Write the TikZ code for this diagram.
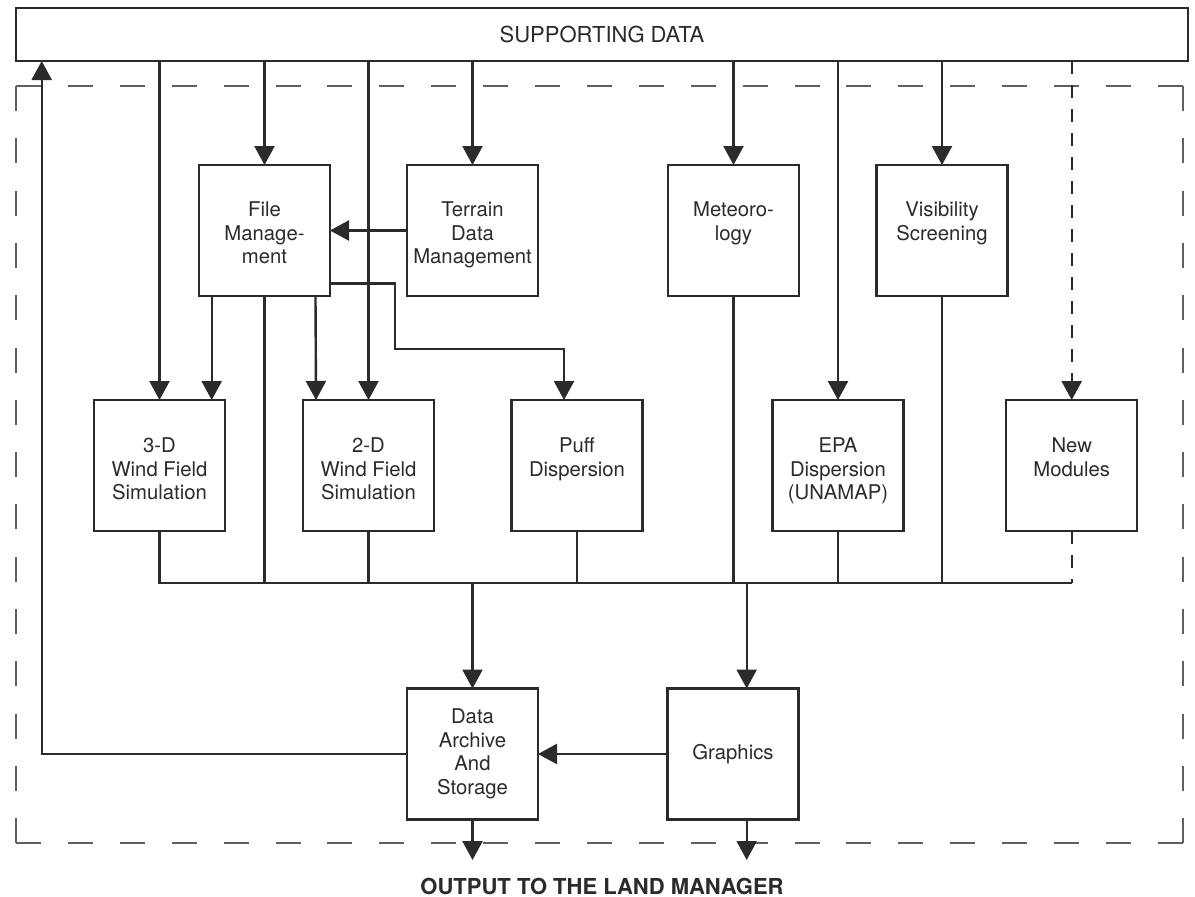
\documentclass[tikz,border=0pt]{standalone}
\usepackage{fontspec}
\setmainfont{TeX Gyre Heros}
\usetikzlibrary{arrows.meta,calc}
\definecolor{ink}{HTML}{2B2B2B}
\newcommand{\toptext}[2]{\parbox[c][131pt][t]{131pt}{\centering\rule{0pt}{#1}#2}}
\begin{document}
\begin{tikzpicture}[x=1pt,y=-1pt,
  line/.style={draw=ink, line width=2.4pt},
  arr/.style={line, -{Triangle[length=19pt,width=20pt]}},
  box/.style={draw=ink, line width=2.3pt, inner sep=0pt, outer sep=0pt,
    minimum width=131pt, minimum height=131pt, align=center, text=ink,
    font=\fontsize{20.3}{23.5}\selectfont},
  border/.style={draw=ink!75, line width=1.4pt},
  newdash/.style={dash pattern=on 13pt off 11pt}]
\useasboundingbox (0,0) rectangle (1195,897);
\fill[white] (0,0) rectangle (1195,897);

% dashed frame
\draw[border, dash pattern=on 25pt off 26.9pt] (16,86) -- (1183,86);
\draw[border, dash pattern=on 25pt off 26.9pt] (16,843) -- (1183,843);
\draw[border, dash pattern=on 25pt off 27.3pt] (16,86) -- (16,843);
\draw[border, dash pattern=on 25pt off 27.3pt] (1183,86) -- (1183,843);

% supporting data
\node[box, minimum width=1172pt, minimum height=53pt,
  font=\fontsize{22}{24}\selectfont] (sd) at (602,34.5) {SUPPORTING DATA};

% upper row
\node[box] (fm)  at (264.5,230.5) {\toptext{51.5pt}{File\\Manage-\\ment}};
\node[box] (td)  at (472.5,230.5) {\toptext{51.5pt}{Terrain\\Data\\Management}};
\node[box] (met) at (733.5,230.5) {\toptext{51.5pt}{Meteoro-\\logy}};
\node[box] (vis) at (942,230.5)   {\toptext{51.5pt}{Visibility\\Screening}};

% middle row
\node[box] (w3)   at (159.5,465.5) {\toptext{52.5pt}{3-D\\Wind Field\\Simulation}};
\node[box] (w2)   at (368.5,465.5) {\toptext{52.5pt}{2-D\\Wind Field\\Simulation}};
\node[box] (puff) at (577,465.5)   {\toptext{52.5pt}{Puff\\Dispersion}};
\node[box] (epa)  at (838,465.5)   {\toptext{52.5pt}{EPA\\Dispersion\\(UNAMAP)}};
\node[box] (nm)   at (1071.7,465.5){\toptext{52.5pt}{New\\Modules}};

% bottom row
\node[box] (da) at (472.5,754) {Data\\Archive\\And\\Storage};
\node[box] (gr) at (733,754)   {Graphics};

\node[text=ink, font=\bfseries\fontsize{22}{24}\selectfont, anchor=base]
  (out) at (602,894) {OUTPUT TO THE LAND MANAGER};

% helper coordinates
\coordinate (bus) at (0,583);
\coordinate (fb) at (41.7,754);
\coordinate (b2) at (395,349);
\coordinate (gin) at ($(gr.north)+(13.7,0)$);
\coordinate (gout) at ($(gr.south)+(13.7,0)$);
\coordinate (o1) at (472.5,860);
\coordinate (o2) at (746.7,860);

% from supporting data
\draw[arr] (sd.south -| w3.north) -- (w3.north);
\draw[arr] (sd.south -| fm.north) -- (fm.north);
\draw[arr] (sd.south -| w2.north) -- (w2.north);
\draw[arr] (sd.south -| td.north) -- (td.north);
\draw[arr] (sd.south -| met.north) -- (met.north);
\draw[arr] (sd.south -| epa.north) -- (epa.north);
\draw[arr] (sd.south -| vis.north) -- (vis.north);
\draw[arr, newdash] (sd.south -| nm.north) -- (nm.north);

% terrain to file management
\draw[arr] (td.west) -- (fm.east);

% file management outputs
\draw[arr] ($(fm.south west)+(12.7,0)$) -- ($(w3.north)+(52.2,0)$);
\draw[arr] ($(fm.south east)+(-14.5,0)$) -- ($(w2.north)+(-52.5,0)$);
\draw[arr] ($(fm.south east)+(0,-12.5)$) -| (b2) -| ($(puff.north)+(-13,0)$);

% bus
\draw[line] (w3.south) |- (nm.south |- bus);
\draw[line] (fm.south) -- (fm.south |- bus);
\draw[line] (w2.south) -- (w2.south |- bus);
\draw[line] (puff.south) -- (puff.south |- bus);
\draw[line] (met.south) -- (met.south |- bus);
\draw[line] (epa.south) -- (epa.south |- bus);
\draw[line] (vis.south) -- (vis.south |- bus);
\draw[line, newdash] (nm.south) -- (nm.south |- bus);

% bus to bottom boxes
\draw[arr] (da.north |- bus) -- (da.north);
\draw[arr] (gin |- bus) -- (gin);

% graphics to archive, feedback
\draw[arr] (gr.west) -- (da.east);
\draw[arr] (da.west) -- (fb) -- (fb |- sd.south);

% outputs
\draw[arr] (da.south) -- (o1);
\draw[arr] (gout) -- (o2);
\end{tikzpicture}
\end{document}
